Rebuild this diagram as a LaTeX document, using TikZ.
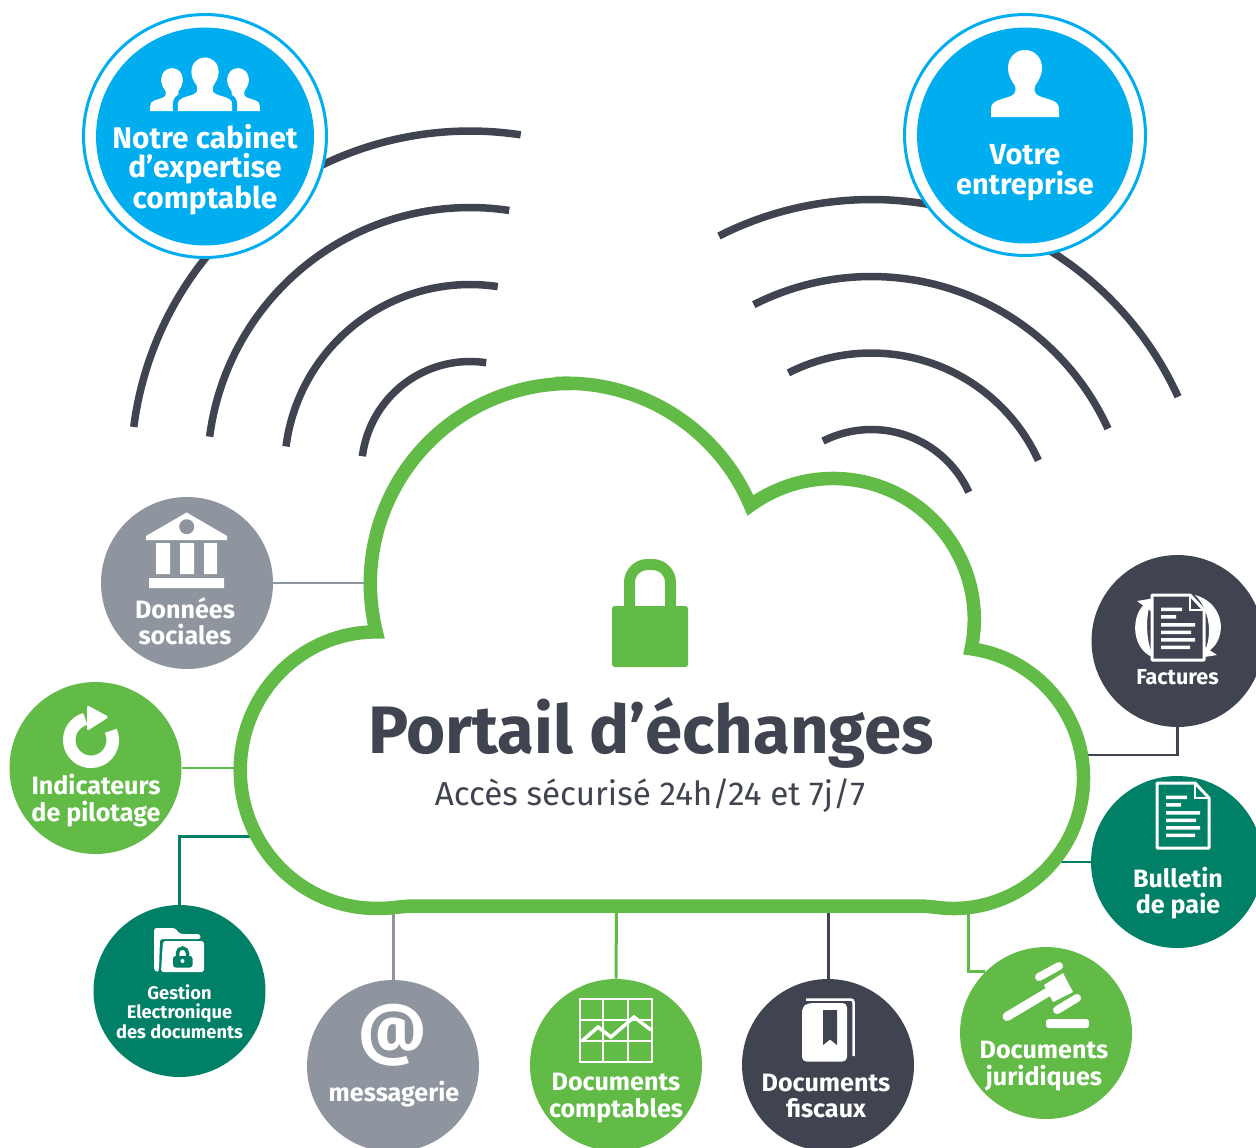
\documentclass[tikz,border=0pt]{standalone}
\usepackage{fontspec}
\setmainfont{Fira Sans}
\usetikzlibrary{positioning, calc}

\definecolor{leaf}{HTML}{62BB46}
\definecolor{slate}{HTML}{3F4450}
\definecolor{ash}{HTML}{8F959E}
\definecolor{pine}{HTML}{008066}
\definecolor{sky}{HTML}{00AEEF}

\tikzset{
	disc/.style={circle, minimum size=3.44cm, inner sep=0pt, fill=#1},
	bigdisc/.style={circle, minimum size=4.36cm, inner sep=0pt, fill=sky, outer sep=0pt},
	halo/.style={circle, minimum size=4.86cm, inner sep=0pt, draw=sky, line width=0.06cm, fill=white},
	link/.style={line width=0.05cm, draw=#1},
	wave/.style={line width=0.15cm, slate},
	mark/.style={white, line width=#1, line cap=round},
	caption/.style={white, font=\bfseries\fontsize{14.3}{15}\selectfont, align=center, inner sep=0pt},
	bust/.pic={
		\path[pic actions] (-34,0) -- (-34,-8) .. controls (-34,-17) and (-24,-17) .. (-14,-21)
			.. controls (-9,-23) and (-9,-28) .. (-10,-31) .. controls (-14,-37) and (-17,-42) .. (-17,-49)
			.. controls (-17,-60) and (-9,-67) .. (0,-67) .. controls (9,-67) and (17,-60) .. (17,-49)
			.. controls (17,-42) and (14,-37) .. (10,-31) .. controls (9,-28) and (9,-23) .. (14,-21)
			.. controls (24,-17) and (34,-17) .. (34,-8) -- (34,0) -- cycle;
	},
	sheet/.pic={
		\draw[draw=white, fill=#1, line width=0.06cm, line join=round] (0,0) -- (38,0) -- (52,15) -- (52,65) -- (0,65) -- cycle;
		\draw[white, line width=0.04cm] (38,0) -- (38,15) -- (52,15);
		\fill[white] (9,12.5) rectangle (30,16) (9,20) rectangle (24,23.5) (9,28) rectangle (43,31.5)
			(9,35.5) rectangle (39,39) (9,43) rectangle (43,46.5) (9,50.5) rectangle (38,54);
	},
}

\begin{document}
\begin{tikzpicture}[x=0.02cm, y=-0.02cm]
	\clip (0,0) rectangle (1256,1147);

	% waves towards the two offices
	\draw[wave] (470,470) +(-172.7:339) arc[start angle=-172.7, end angle=-81.4, radius=339];
	\draw[wave] (470,470) +(-172.7:262.5) arc[start angle=-172.7, end angle=-81.4, radius=262.5];
	\draw[wave] (470,470) +(-172.7:185.5) arc[start angle=-172.7, end angle=-81.4, radius=185.5];
	\draw[wave] (470,470) +(-172.7:108.5) arc[start angle=-172.7, end angle=-81.4, radius=108.5];
	\draw[wave] (871.4,536.5) +(-116.9:337) arc[start angle=-116.9, end angle=-24.5, radius=337];
	\draw[wave] (871.4,536.5) +(-116.9:260) arc[start angle=-116.9, end angle=-24.5, radius=260];
	\draw[wave] (871.4,536.5) +(-116.9:183.5) arc[start angle=-116.9, end angle=-24.5, radius=183.5];
	\draw[wave] (871.4,536.5) +(-116.9:107) arc[start angle=-116.9, end angle=-24.5, radius=107];

	% offices
	\node[halo] (cabinetring) at (205,136) {};
	\node[bigdisc] (cabinet) at (205,136.5) {};
	\node[halo, minimum size=4.82cm] (entrepring) at (1025,135) {};
	\node[bigdisc, minimum size=4.32cm] (entreprise) at (1025,135.5) {};

	% services
	\node[disc=ash] (sociales) at (187,583) {};
	\node[disc=leaf] (pilotage) at (95.5,768) {};
	\node[disc=pine] (ged) at (179.5,991) {};
	\node[disc=ash] (messagerie) at (393,1066) {};
	\node[disc=leaf] (comptables) at (616,1065) {};
	\node[disc=slate] (fiscaux) at (828,1065) {};
	\node[disc=leaf] (juridiques) at (1046,1033) {};
	\node[disc=slate] (factures) at (1177.5,641) {};
	\node[disc=pine] (bulletin) at (1177,862) {};

	% feet of the links under the cloud
	\coordinate (csociales) at (372,583);
	\coordinate (cpilotage) at (245,768);
	\coordinate (cged) at (258,836.5);
	\coordinate (cmessagerie) at (393,905);
	\coordinate (ccomptables) at (616.5,905);
	\coordinate (cfiscaux) at (828,905);
	\coordinate (cjuridiques) at (968,905);
	\coordinate (cfactures) at (1080,755);
	\coordinate (cbulletin) at (1050,862);

	\draw[link=ash] (sociales) -- (csociales);
	\draw[link=leaf] (pilotage) -- (cpilotage);
	\draw[link=pine] (ged.north) |- (cged);
	\draw[link=ash, line width=0.06cm] (messagerie) -- (cmessagerie);
	\draw[link=leaf, line width=0.06cm] (comptables.north) -- (ccomptables);
	\draw[link=slate, line width=0.06cm] (fiscaux) -- (cfiscaux);
	\draw[link=leaf, line width=0.06cm] (cjuridiques) |- (juridiques.135);
	\draw[link=slate] (factures.south) |- (cfactures);
	\draw[link=pine] (bulletin) -- (cbulletin);

	% cloud
	\draw[leaf, fill=white, line width=0.27cm] (570.3,383.5)
		arc[start angle=-90, end angle=-194, radius=200]
		arc[start angle=-90, end angle=-270, x radius=136, y radius=138.25]
		.. controls (395,908.5) and (400,906) .. (415,906) -- (920,906)
		.. controls (930,906) and (940,908.5) .. (953,908.5)
		arc[start angle=90, end angle=-82, radius=130.5]
		arc[start angle=12, end angle=-126, radius=141]
		arc[start angle=-22.9, end angle=-93, radius=200];

	% padlock
	\fill[leaf, rounded corners=1.5] (612,606) rectangle (688,667);
	\draw[leaf, line width=0.22cm, rounded corners=0.36cm] (629.5,612) -- (629.5,564.5) -- (670.5,564.5) -- (670.5,612);

	\node[slate, font=\bfseries\fontsize{38.2}{44}\selectfont, inner sep=0pt] (titre) at (651,733) {Portail d’échanges};
	\node[slate, font=\fontsize{18.9}{22}\selectfont, inner sep=0pt] (soustitre) at (650,796) {Accès sécurisé 24h/24 et 7j/7};

	% offices, icons and names
	\pic[fill=white, scale=0.64] at (172,111) {bust};
	\pic[fill=white, scale=0.64] at (238,111) {bust};
	\pic[fill=sky, draw=sky, line width=0.2cm, scale=0.8] at (205,111) {bust};
	\pic[fill=white, scale=0.8] at (205,111) {bust};
	\node[caption, font=\bfseries\fontsize{17}{16.3}\selectfont] (cabinettxt) at (205,170) {Notre cabinet\\d’expertise\\comptable};
	\pic[fill=white] at (1025,117) {bust};
	\node[caption, font=\bfseries\fontsize{16.5}{17.1}\selectfont] (entreprisetxt) at (1025,173) {Votre\\entreprise};

	% bank
	\fill[white] (186.7,512.5) -- (227,536) -- (227,540) -- (146,540) -- (146,536) -- cycle;
	\fill[ash] (186.7,526.7) circle[radius=7.5];
	\fill[white] (156,543) rectangle (170,574) (180,543) rectangle (194,574) (204,543) rectangle (217,574) (149,578) rectangle (224,588);
	\node[caption] (socialestxt) at (185,621) {Données\\sociales};

	% play ring
	\draw[white, line width=0.25cm] (91,740) +(-25:21.8) arc[start angle=-25, end angle=255, radius=21.8];
	\fill[white, rounded corners=1] (87,705) -- (109,717) -- (87,731) -- cycle;
	\node[caption] (pilotagetxt) at (96,800.5) {Indicateurs\\de pilotage};

	% locked folder
	\fill[white, rounded corners=1.5] (157,972) -- (154,970) -- (154,928) -- (175,928) -- (180,934) -- (200,934) -- (201,939) -- (160,939) -- (159,970) -- cycle;
	\fill[white, rounded corners=1.5] (161,972) -- (163,941) -- (204,941) -- (204,972) -- cycle;
	\fill[pine, rounded corners=1.5] (173,956) rectangle (192.5,967.5);
	\draw[pine, line width=0.07cm] (177.5,958) -- (177.5,953) arc[start angle=180, end angle=360, radius=5] -- (187.5,958);
	\fill[white] (182.5,961) circle[radius=2];
	\node[caption, font=\bfseries\fontsize{10.4}{11}\selectfont] (gedtxt) at (179.5,1011.5) {Gestion\\Electronique\\des documents};

	% at sign
	\node[white, font=\bfseries\fontsize{38}{40}\selectfont, inner sep=0pt] (arobase) at (393,1035) {@};
	\node[caption] (messagerietxt) at (394,1094) {messagerie};

	% chart
	\draw[white, line width=0.035cm] (580,999) rectangle (652,1062) (603,999) -- (603,1062) (628,999) -- (628,1062) (580,1020) -- (652,1020) (580,1041) -- (652,1041);
	\draw[white, line width=0.07cm] (582,1041) -- (598,1027) -- (611,1037) -- (634,1017) -- (651,1030);
	\node[caption] (comptablestxt) at (616,1098) {Documents\\comptables};

	% book
	\draw[white, line width=0.05cm, rounded corners=1.5] (806,999.5) -- (853.5,999.5) -- (853.5,1056);
	\fill[white, rounded corners=2.5] (802,1061.5) -- (802,1007) -- (808,1003) -- (847,1003) -- (847,1061.5) -- cycle;
	\fill[slate] (823,1010) -- (837,1010) -- (837,1045) -- (830,1039.5) -- (823,1045) -- cycle;
	\node[caption] (fiscauxtxt) at (826,1096) {Documents\\fiscaux};

	% gavel
	\draw[mark=0.18cm] (1007,1016.5) -- (1048,992);
	\fill[white] (1044,985) -- (1063,973) -- (1073,992) -- (1053,1002) -- cycle;
	\draw[mark=0.16cm] (1039,977) -- (1059,966);
	\draw[mark=0.16cm] (1057,1010) -- (1077,998);
	\fill[white, rounded corners=1.5] (1046,1019) rectangle (1089,1028);
	\node[caption] (juridiquestxt) at (1044,1066) {Documents\\juridiques};

	% sheets
	\fill[white] (1152,600) .. controls (1130,606) and (1128,650) .. (1155,658) .. controls (1145,645) and (1145,612) .. (1152,600) -- cycle;
	\fill[white] (1137,601) -- (1155,598) -- (1152,612) -- cycle;
	\fill[white] (1195,595) .. controls (1228,604) and (1228,645) .. (1203,654) .. controls (1212,640) and (1212,612) .. (1195,595) -- cycle;
	\fill[white] (1217,655) -- (1198,658) -- (1202,645) -- cycle;
	\pic at (1152,595) {sheet=slate};
	\node[caption, font=\bfseries\fontsize{12.3}{13}\selectfont] (facturestxt) at (1177.5,677) {Factures};
	\pic at (1157,783) {sheet=pine};
	\node[caption] (bulletintxt) at (1178,893) {Bulletin\\de paie};
\end{tikzpicture}
\end{document}
